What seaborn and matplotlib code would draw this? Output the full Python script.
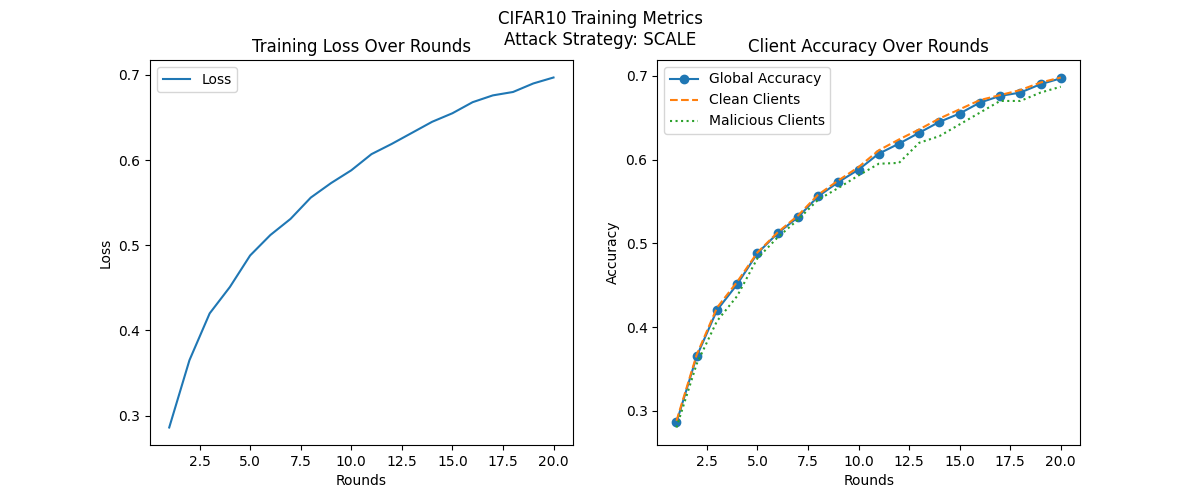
import seaborn as sns
from matplotlib import pyplot as plt

# values
rounds = list(range(1, 21))
loss = [0.286, 0.365, 0.420, 0.451, 0.488, 0.512, 0.531, 0.556, 0.573, 0.588,
        0.607, 0.619, 0.632, 0.645, 0.655, 0.668, 0.676, 0.680, 0.690, 0.697]
global_acc = [0.286, 0.365, 0.420, 0.451, 0.488, 0.512, 0.531, 0.556, 0.573, 0.588,
              0.607, 0.619, 0.632, 0.645, 0.655, 0.668, 0.676, 0.680, 0.690, 0.697]
clean_acc = [0.288, 0.367, 0.423, 0.454, 0.489, 0.513, 0.533, 0.558, 0.575, 0.591,
             0.611, 0.624, 0.636, 0.649, 0.660, 0.671, 0.677, 0.683, 0.692, 0.698]
malicious_acc = [0.280, 0.356, 0.407, 0.437, 0.482, 0.507, 0.528, 0.552, 0.566, 0.581,
                 0.595, 0.596, 0.620, 0.628, 0.642, 0.656, 0.670, 0.670, 0.680, 0.687]

fig, (ax1, ax2) = plt.subplots(1, 2, figsize=(12, 5), dpi=100)

sns.lineplot(x=rounds, y=loss, ax=ax1, label='Loss', color='C0')
ax1.set_title('Training Loss Over Rounds')
ax1.set_xlabel('Rounds')
ax1.set_ylabel('Loss')
ax1.legend(loc='upper left')

sns.lineplot(x=rounds, y=global_acc, ax=ax2, label='Global Accuracy', color='C0',
             marker='o', markersize=6, markeredgecolor='C0', markeredgewidth=1.0)
sns.lineplot(x=rounds, y=clean_acc, ax=ax2, label='Clean Clients', color='C1',
             linestyle='--')
sns.lineplot(x=rounds, y=malicious_acc, ax=ax2, label='Malicious Clients', color='C2',
             linestyle=':')
ax2.set_title('Client Accuracy Over Rounds')
ax2.set_xlabel('Rounds')
ax2.set_ylabel('Accuracy')
ax2.legend(loc='upper left')

fig.suptitle('CIFAR10 Training Metrics\nAttack Strategy: SCALE')
fig.savefig('out.png')
